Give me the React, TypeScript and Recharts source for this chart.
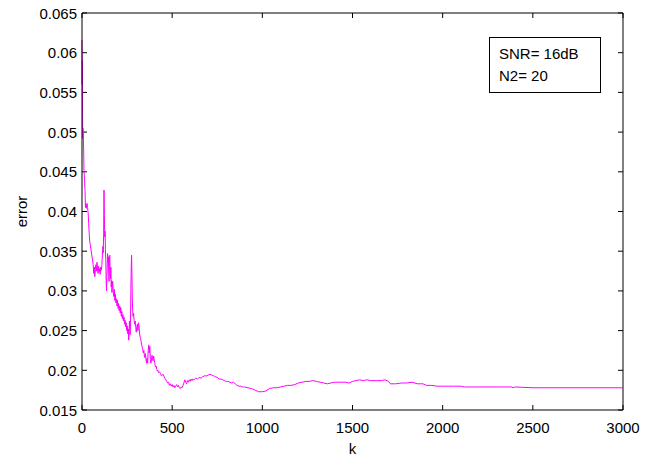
import { LineChart, Line, XAxis, YAxis, Legend, ReferenceLine } from "recharts";

// adaptive filter error vs. iteration k, as [k, error]
const errorTrace: [number, number][] = [
  [0, 0.0616], [1, 0.056], [2, 0.059], [3, 0.052], [4, 0.0492], [5, 0.0505], [7, 0.05], [9, 0.048],
  [11, 0.0452], [14, 0.044], [17, 0.0425], [19, 0.0405], [22, 0.041], [25, 0.0404], [28, 0.041],
  [31, 0.0405], [34, 0.0398], [37, 0.0385], [40, 0.0372], [43, 0.0362], [46, 0.0358], [50, 0.0352],
  [54, 0.0345], [58, 0.034], [62, 0.0333], [65, 0.0322], [68, 0.033], [71, 0.0318], [74, 0.0327],
  [77, 0.0333], [80, 0.0325], [83, 0.0336], [86, 0.0329], [89, 0.0322], [92, 0.0331], [95, 0.0324],
  [98, 0.0328], [101, 0.0321], [104, 0.033], [107, 0.0326], [110, 0.0332], [113, 0.0345], [116, 0.0356],
  [118, 0.0348], [120, 0.0372], [122, 0.0427], [124, 0.0395], [126, 0.0368], [128, 0.0375], [130, 0.0352],
  [132, 0.0338], [134, 0.0312], [136, 0.03], [138, 0.0318], [140, 0.033], [142, 0.0347], [144, 0.0336],
  [146, 0.0343], [148, 0.0325], [150, 0.0312], [152, 0.0336], [154, 0.0345], [156, 0.0322], [158, 0.0315],
  [160, 0.033], [162, 0.0305], [164, 0.0313], [166, 0.0298], [168, 0.0306], [170, 0.0312], [173, 0.03],
  [176, 0.0293], [179, 0.0302], [182, 0.0288], [185, 0.0296], [188, 0.0285], [191, 0.029], [194, 0.0281],
  [197, 0.0288], [200, 0.0278], [203, 0.0284], [206, 0.0275], [209, 0.0281], [212, 0.0272], [215, 0.0279],
  [218, 0.0268], [221, 0.0274], [224, 0.0265], [227, 0.027], [230, 0.0262], [233, 0.0267], [236, 0.0258],
  [239, 0.0263], [242, 0.0255], [245, 0.026], [248, 0.025], [251, 0.0256], [254, 0.0246], [257, 0.0252],
  [259, 0.0238], [261, 0.0248], [263, 0.0262], [265, 0.0258], [267, 0.0245], [269, 0.026], [271, 0.03],
  [273, 0.033], [275, 0.0345], [277, 0.032], [279, 0.029], [281, 0.0275], [283, 0.0268], [286, 0.0272],
  [289, 0.0263], [292, 0.0258], [295, 0.0262], [298, 0.0254], [301, 0.0248], [304, 0.0255], [307, 0.0258],
  [310, 0.025], [313, 0.026], [316, 0.0256], [319, 0.0247], [322, 0.0242], [325, 0.024], [328, 0.0236],
  [331, 0.0232], [334, 0.0229], [337, 0.0226], [340, 0.0222], [343, 0.0225], [346, 0.0218], [349, 0.0216],
  [352, 0.0221], [355, 0.0213], [358, 0.0209], [361, 0.0215], [364, 0.0209], [367, 0.0225], [370, 0.0232],
  [373, 0.0222], [376, 0.023], [379, 0.0214], [382, 0.0209], [385, 0.0213], [388, 0.0219], [391, 0.0216],
  [394, 0.0212], [397, 0.0218], [400, 0.0214], [403, 0.021], [406, 0.0206], [409, 0.0204], [412, 0.0205],
  [415, 0.0201], [418, 0.0199], [421, 0.02], [425, 0.0197], [430, 0.0198], [435, 0.0196], [440, 0.0193],
  [445, 0.0194], [450, 0.0195], [455, 0.0192], [460, 0.019], [465, 0.0188], [470, 0.0186], [475, 0.0184],
  [480, 0.0185], [485, 0.0181], [490, 0.0183], [495, 0.018], [500, 0.0182], [505, 0.0179], [510, 0.0181],
  [515, 0.0178], [520, 0.018], [525, 0.0182], [530, 0.0179], [535, 0.0181], [540, 0.0178], [545, 0.0177],
  [550, 0.0179], [555, 0.0178], [560, 0.0181], [565, 0.0184], [570, 0.0188], [575, 0.0185], [580, 0.0183],
  [585, 0.0187], [590, 0.0185], [595, 0.0188], [600, 0.0186], [605, 0.0189], [610, 0.0187], [615, 0.0189],
  [620, 0.0188], [630, 0.019], [640, 0.0189], [650, 0.0191], [660, 0.019], [670, 0.0192], [680, 0.0193],
  [690, 0.0193], [700, 0.0194], [710, 0.0195], [720, 0.0194], [730, 0.0193], [740, 0.0192], [750, 0.0191],
  [760, 0.0189], [770, 0.0189], [780, 0.0188], [790, 0.0187], [800, 0.0186], [810, 0.0186], [820, 0.0185],
  [830, 0.0184], [840, 0.0185], [850, 0.0183], [860, 0.0181], [870, 0.018], [880, 0.018], [890, 0.0179],
  [900, 0.0179], [920, 0.0178], [940, 0.0177], [960, 0.0175], [980, 0.0173], [1000, 0.0173], [1020, 0.0174],
  [1040, 0.0177], [1060, 0.0178], [1080, 0.0178], [1100, 0.0179], [1120, 0.018], [1140, 0.0181],
  [1160, 0.0181], [1180, 0.0182], [1200, 0.0184], [1220, 0.0185], [1240, 0.0186], [1260, 0.0186],
  [1280, 0.0187], [1300, 0.0186], [1320, 0.0185], [1340, 0.0184], [1360, 0.0183], [1380, 0.0184],
  [1400, 0.0185], [1420, 0.0185], [1440, 0.0185], [1460, 0.0185], [1480, 0.0184], [1500, 0.0186],
  [1520, 0.0187], [1540, 0.0188], [1560, 0.0187], [1580, 0.0188], [1600, 0.0187], [1620, 0.0187],
  [1640, 0.0187], [1660, 0.0187], [1680, 0.0188], [1700, 0.0186], [1710, 0.0183], [1740, 0.0183],
  [1770, 0.0184], [1800, 0.0184], [1830, 0.0185], [1860, 0.0183], [1890, 0.0183], [1910, 0.0181],
  [1940, 0.0181], [1970, 0.018], [2000, 0.018], [2030, 0.018], [2060, 0.018], [2100, 0.018], [2120, 0.0179],
  [2200, 0.0179], [2300, 0.0179], [2380, 0.0179], [2390, 0.0178], [2400, 0.0179], [2500, 0.0178],
  [2600, 0.0178], [2700, 0.0178], [2800, 0.0178], [2900, 0.0178], [3000, 0.0178],
];

const xTicks = [0, 500, 1000, 1500, 2000, 2500, 3000];
const yTicks = [0.015, 0.02, 0.025, 0.03, 0.035, 0.04, 0.045, 0.05, 0.055, 0.06, 0.065];
const noteLines = ["SNR= 16dB", "N2= 20"];

const data = errorTrace.map(([k, error]) => ({ k, error }));

const FONT = "'Liberation Sans', Arial, sans-serif";
const TICK_LEN = 5;

// tickSize/tickMargin are 0 so x,y arrive exactly on the axis line
const LeftLabel = ({ x, y, payload }: any) => (
  <text x={x - 5} y={y} dy={5.5} textAnchor="end" fontSize={15} fontFamily={FONT} fill="#000">
    {String(payload.value)}
  </text>
);

const BottomLabel = ({ x, y, payload }: any) => (
  <text x={x} y={y + 23} textAnchor="middle" fontSize={15} fontFamily={FONT} fill="#000">
    {String(payload.value)}
  </text>
);

// inward tick marks at both ends of a grid position (matlab-style boxed axes)
const VTickPair = ({ x1, y1, x2, y2 }: any) => (
  <g>
    <line x1={x1} x2={x1} y1={Math.min(y1, y2)} y2={Math.min(y1, y2) + TICK_LEN} stroke="#000" />
    <line x1={x2} x2={x2} y1={Math.max(y1, y2)} y2={Math.max(y1, y2) - TICK_LEN} stroke="#000" />
  </g>
);

const HTickPair = ({ x1, y1, x2, y2 }: any) => (
  <g>
    <line x1={Math.min(x1, x2)} x2={Math.min(x1, x2) + TICK_LEN} y1={y1} y2={y1} stroke="#000" />
    <line x1={Math.max(x1, x2)} x2={Math.max(x1, x2) - TICK_LEN} y1={y2} y2={y2} stroke="#000" />
  </g>
);

const NoteBox = () => (
  <div
    style={{
      border: "1px solid #000",
      background: "#fff",
      fontFamily: FONT,
      fontSize: 15,
      lineHeight: "22px",
      padding: "5px 8px 4px 9px",
      color: "#000",
      boxSizing: "border-box",
      width: 112,
      height: 56,
    }}
  >
    {noteLines.map((t) => (
      <div key={t}>{t}</div>
    ))}
  </div>
);

export default function App() {
  return (
    <div style={{ position: "absolute", left: 0, top: 0, width: 656, height: 460, background: "#fff" }}>
      <LineChart width={656} height={460} data={data} margin={{ top: 13, right: 33, bottom: 0, left: 0 }}>
        <XAxis
          dataKey="k"
          type="number"
          domain={[0, 3000]}
          ticks={xTicks}
          height={50}
          tickSize={0}
          tickMargin={0}
          tickLine={false}
          axisLine={{ stroke: "#000" }}
          tick={<BottomLabel />}
          label={({ viewBox }: any) => (
            <text
              x={viewBox.x + viewBox.width / 2}
              y={viewBox.y + 44}
              textAnchor="middle"
              fontSize={15}
              fontFamily={FONT}
              fill="#000"
            >
              k
            </text>
          )}
        />
        <YAxis
          type="number"
          domain={[0.015, 0.065]}
          ticks={yTicks}
          width={82}
          tickSize={0}
          tickMargin={0}
          tickLine={false}
          axisLine={{ stroke: "#000" }}
          tick={<LeftLabel />}
          label={({ viewBox }: any) => {
            const cx = viewBox.x + 22;
            const cy = viewBox.y + viewBox.height / 2;
            return (
              <text
                x={cx}
                y={cy}
                transform={`rotate(-90 ${cx} ${cy})`}
                textAnchor="middle"
                dy={5}
                fontSize={15}
                fontFamily={FONT}
                fill="#000"
              >
                error
              </text>
            );
          }}
        />
        {/* top and right sides of the box */}
        <ReferenceLine y={0.065} stroke="#000" />
        <ReferenceLine x={3000} stroke="#000" />
        {xTicks.map((t) => (
          <ReferenceLine key={`xt${t}`} x={t} shape={<VTickPair />} />
        ))}
        {yTicks.map((t) => (
          <ReferenceLine key={`yt${t}`} y={t} shape={<HTickPair />} />
        ))}
        <Legend
          layout="horizontal"
          verticalAlign="middle"
          align="center"
          content={<NoteBox />}
          wrapperStyle={{ left: 489, top: 37, width: 112, height: 56 }}
        />
        <Line
          type="linear"
          dataKey="error"
          stroke="#ff00ff"
          strokeWidth={1}
          dot={false}
          activeDot={false}
          isAnimationActive={false}
        />
      </LineChart>
    </div>
  );
}
